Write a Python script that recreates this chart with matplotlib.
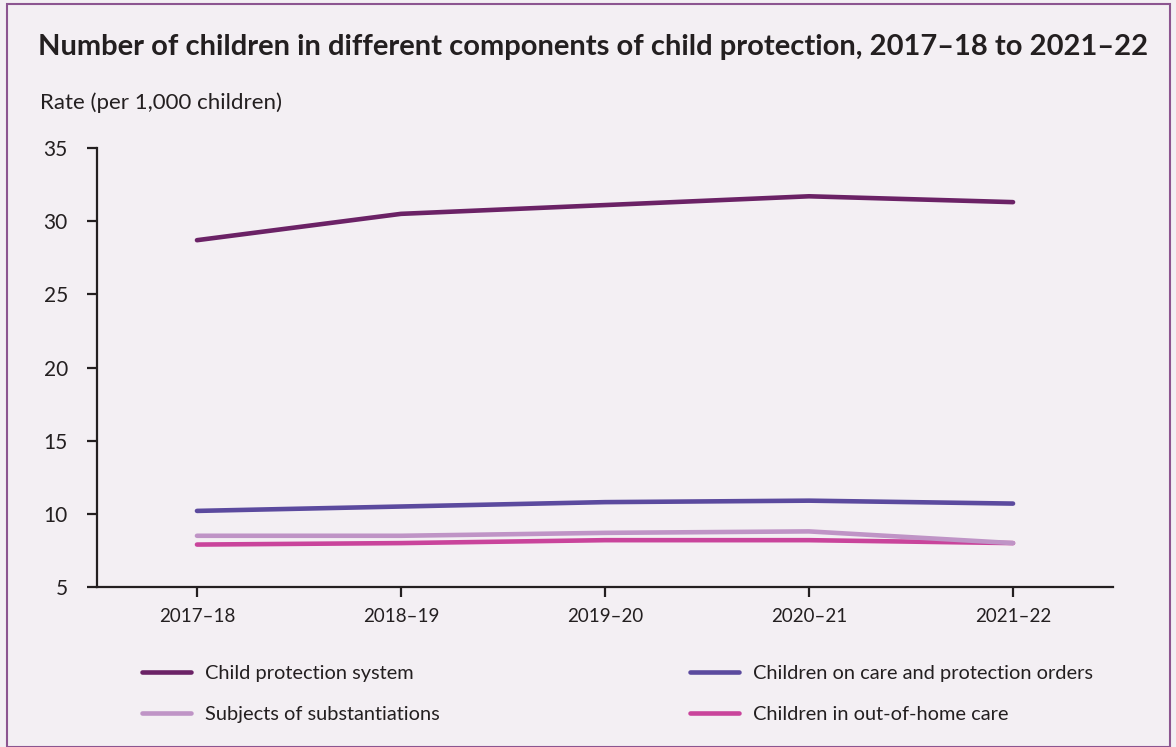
import matplotlib
matplotlib.use("Agg")
import matplotlib.pyplot as plt
from matplotlib.patches import Rectangle

plt.rcParams['font.family'] = ['Lato', 'DejaVu Sans']

years = ['2017–18', '2018–19', '2019–20', '2020–21', '2021–22']
cps = [28.7, 30.5, 31.1, 31.7, 31.3]
orders = [10.2, 10.5, 10.8, 10.9, 10.7]
substantiations = [8.5, 8.5, 8.7, 8.8, 8.0]
oohc = [7.9, 8.0, 8.2, 8.2, 8.0]

bg = '#f3eff3'
ink = '#231f20'

fig = plt.figure(figsize=(11.76, 7.47), dpi=100, facecolor=bg)
fig.patches.append(Rectangle((7 / 1176, 0.0), 1163 / 1176, 1 - 4 / 747,
                             transform=fig.transFigure, fill=False,
                             edgecolor='#8c5590', linewidth=1.5))

ax = fig.add_axes([97 / 1176, 1 - 587 / 747, (1113 - 97) / 1176, (587 - 148) / 747])
ax.set_facecolor(bg)

x = range(len(years))
l1, = ax.plot(x, cps, color='#6b2266', lw=3.3, solid_capstyle='round')
l2, = ax.plot(x, orders, color='#5b4a9e', lw=3.3, solid_capstyle='round')
l4, = ax.plot(x, oohc, color='#c9449b', lw=3.3, solid_capstyle='round')
l3, = ax.plot(x, substantiations, color='#bf94c6', lw=3.3, solid_capstyle='round')

ax.set_xlim(-0.49, 4.49)
ax.set_ylim(5, 35)
ax.set_yticks(range(5, 36, 5))
ax.set_xticks(list(x))
ax.set_xticklabels(years)

for s in ['top', 'right']:
    ax.spines[s].set_visible(False)
for s in ['left', 'bottom']:
    ax.spines[s].set_color(ink)
    ax.spines[s].set_linewidth(1.6)
ax.tick_params(axis='both', colors=ink, width=1.6, length=7, labelsize=13.5)
ax.tick_params(axis='y', labelsize=15, pad=14)
ax.tick_params(axis='x', pad=8)

fig.text(38 / 1176, 1 - 47 / 747, 'Number of children in different components of child protection, 2017–18 to 2021–22',
         fontsize=21, fontweight='bold', color=ink, va='center', ha='left')
fig.text(40 / 1176, 1 - 103 / 747, 'Rate (per 1,000 children)', fontsize=16,
         color=ink, va='center', ha='left')

leg_kw = dict(frameon=False, fontsize=14.4, handlelength=2.45, handletextpad=0.72,
              labelspacing=1.2, borderpad=0, borderaxespad=0, loc='upper left',
              bbox_transform=fig.transFigure, labelcolor=ink)
leg1 = fig.legend([l1, l3], ['Child protection system', 'Subjects of substantiations'],
                  bbox_to_anchor=(142 / 1176, 1 - 665 / 747), **leg_kw)
leg2 = fig.legend([l2, l4], ['Children on care and protection orders', 'Children in out-of-home care'],
                  bbox_to_anchor=(690 / 1176, 1 - 665 / 747), **leg_kw)

fig.savefig('out.png', dpi=100, facecolor=bg)
